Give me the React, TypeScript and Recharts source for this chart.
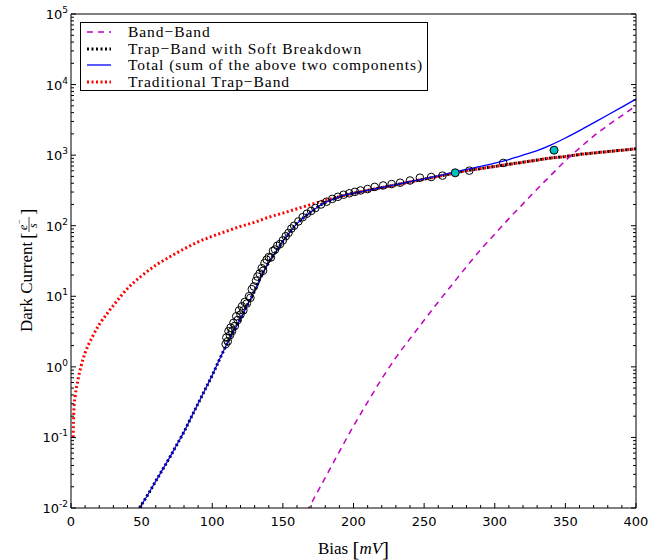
import { ComposedChart, Line, Scatter, XAxis, YAxis, Legend, Label } from 'recharts'

// bias [mV] and dark current [e-/s]
const totalBias = [45, 50, 55, 60, 65, 70, 75, 80, 85, 90, 95, 100, 105, 110, 115, 120, 125, 130, 135, 140, 145, 150, 155, 160, 165, 170, 175, 180, 185, 190, 195, 200, 210, 220, 230, 240, 250, 260, 270, 280, 290, 300, 310, 320, 330, 340, 350, 360, 370, 380, 390, 400]
const totalCurrent = [0.0079, 0.0112, 0.0162, 0.024, 0.0355, 0.0525, 0.0794, 0.12, 0.191, 0.302, 0.479, 0.759, 1.26, 2.04, 3.16, 4.79, 7.59, 12.0, 20.0, 30.2, 42.7, 60.3, 81.3, 107, 132, 158, 186, 214, 234, 257, 275, 288, 316, 348, 381, 420, 462, 509, 565, 629, 692, 768, 867, 998, 1160, 1400, 1750, 2230, 2870, 3700, 4800, 6240]

const softBias = [45, 50, 55, 60, 65, 70, 75, 80, 85, 90, 95, 100, 105, 110, 115, 120, 125, 130, 135, 140, 145, 150, 155, 160, 165, 170, 175, 180, 185, 190, 195, 200, 210, 220, 230, 240, 250, 260, 270, 280, 290, 300, 310, 320, 330, 340, 350, 360, 370, 380, 390, 400]
const softCurrent = [0.0079, 0.0112, 0.0162, 0.024, 0.0355, 0.0525, 0.0794, 0.12, 0.191, 0.302, 0.479, 0.759, 1.26, 2.04, 3.16, 4.79, 7.59, 12.0, 20.0, 30.2, 42.7, 60.3, 81.3, 107, 132, 158, 186, 214, 234, 257, 275, 288, 316, 347, 380, 417, 457, 501, 550, 603, 646, 692, 741, 794, 851, 912, 955, 1023, 1072, 1122, 1175, 1230]

const tradBias = [1.5, 2, 3, 5, 7, 10, 15, 20, 25, 30, 40, 50, 60, 70, 80, 90, 100, 110, 120, 130, 140, 150, 160, 170, 180, 190, 200, 210, 220, 230, 240, 250, 260, 270, 280, 290, 300, 310, 320, 330, 340, 350, 360, 370, 380, 390, 400]
const tradCurrent = [0.1, 0.24, 0.39, 0.661, 1.0, 1.58, 2.63, 3.98, 5.5, 7.41, 12.9, 19.5, 27.5, 36.3, 46.8, 58.9, 70.8, 83.2, 97.7, 112, 132, 151, 174, 200, 229, 257, 288, 316, 347, 380, 417, 457, 501, 550, 603, 646, 692, 741, 794, 851, 912, 955, 1023, 1072, 1122, 1175, 1230]

const bandBias = [167, 170, 180, 190, 200, 210, 220, 230, 240, 250, 260, 270, 280, 290, 300, 310, 320, 330, 340, 350, 360, 370, 380, 390, 400]
const bandCurrent = [0.0089, 0.0115, 0.0269, 0.0631, 0.145, 0.316, 0.676, 1.35, 2.51, 4.57, 8.32, 14.8, 26.3, 45.7, 75.9, 126, 204, 331, 525, 832, 1259, 1862, 2630, 3631, 5012]

const measuredBias = [109.5, 110, 111, 111.5, 112.5, 113, 114, 115, 116, 117, 118, 119, 120, 121, 122, 123, 124.5, 126, 127, 128, 129.5, 131, 132, 133.5, 135, 136, 137, 138.5, 140, 141.5, 143, 144.5, 146, 148, 150, 152, 154, 156, 158, 161, 164, 167, 170, 173, 177, 181, 185, 189, 193, 197, 201, 205, 210, 215, 221, 227, 233, 240, 247, 255, 263, 282, 306]
const measuredCurrent = [2.1, 2.6, 2.3, 3.2, 2.8, 3.6, 3.2, 4.2, 3.8, 5.2, 4.6, 6.3, 5.5, 7.2, 6.3, 8.3, 7.9, 10, 9.5, 12.6, 13.8, 16.6, 19, 21, 25, 23, 29.5, 33, 36, 35.5, 44, 46, 52, 55, 62, 71, 79, 91, 100, 115, 132, 148, 162, 178, 200, 219, 240, 257, 275, 288, 302, 316, 331, 355, 372, 389, 407, 437, 479, 490, 513, 603, 776]

const highlightBias = [272, 342]
const highlightCurrent = [562, 1175]

const xTicks = Array.from({ length: 41 }, (_, i) => i * 10)
const yDecades = [0.01, 0.1, 1, 10, 100, 1000, 10000, 100000]
const yTicks = yDecades.flatMap((d, i) => (i === yDecades.length - 1 ? [d] : [1, 2, 3, 4, 5, 6, 7, 8, 9].map((m) => d * m)))

const legendItems = [
  { label: 'Band\u2212Band', color: '#bf00bf', dash: '6 5', width: 1.5 },
  { label: 'Trap\u2212Band with Soft Breakdown', color: '#000000', dash: '2 2.5', width: 3 },
  { label: 'Total (sum of the above two components)', color: '#0000ff', dash: undefined, width: 1.3 },
  { label: 'Traditional Trap\u2212Band', color: '#ff0000', dash: '2 2.5', width: 3 },
]

const zip = (xs: number[], ys: number[]) => xs.map((x, i) => ({ x, y: ys[i] }))

const tickFont = '"DejaVu Sans", sans-serif'
const labelFont = '"Liberation Serif", serif'

const isDecade = (v: number) => Math.abs(Math.log10(v) - Math.round(Math.log10(v))) < 1e-6

const LeftTick = ({ x, y, payload }: any) => {
  const major = isDecade(payload.value)
  return (
    <g>
      <line x1={x} x2={x + (major ? 5 : 3)} y1={y} y2={y} stroke="#000" strokeWidth={1} />
      {major && (
        <text x={x - 3} y={y + 5} textAnchor="end" fontFamily={tickFont} fontSize={13} fill="#000">
          10<tspan dy={-6} fontSize={9}>{Math.round(Math.log10(payload.value))}</tspan>
        </text>
      )}
    </g>
  )
}

const RightTick = ({ x, y, payload }: any) => {
  const major = isDecade(payload.value)
  return <line x1={x - (major ? 5 : 3)} x2={x} y1={y} y2={y} stroke="#000" strokeWidth={1} />
}

const BottomTick = ({ x, y, payload }: any) => {
  const major = payload.value % 50 === 0
  return (
    <g>
      <line x1={x} x2={x} y1={y} y2={y - (major ? 5 : 3)} stroke="#000" strokeWidth={1} />
      {major && (
        <text x={x} y={y + 18} textAnchor="middle" fontFamily={tickFont} fontSize={13} fill="#000">
          {payload.value}
        </text>
      )}
    </g>
  )
}

const TopTick = ({ x, y, payload }: any) => {
  const major = payload.value % 50 === 0
  return <line x1={x} x2={x} y1={y} y2={y + (major ? 5 : 3)} stroke="#000" strokeWidth={1} />
}

const XTitle = ({ viewBox }: any) => {
  const cx = viewBox.x + viewBox.width / 2
  return (
    <text x={cx} y={viewBox.y + 46} textAnchor="middle" fontFamily={labelFont} fontSize={17} fill="#000">
      Bias <tspan fontSize={21} dy={2}>[</tspan>
      <tspan fontStyle="italic" dy={-2}>mV</tspan>
      <tspan fontSize={21} dy={2}>]</tspan>
    </text>
  )
}

const YTitle = ({ viewBox }: any) => {
  const cy = viewBox.y + viewBox.height / 2 + 5
  return (
    <g transform={`translate(32, ${cy}) rotate(-90)`} fontFamily={labelFont} fill="#000">
      <text x={-66} y={0} fontSize={17}>Dark Current</text>
      <text x={27} y={2} fontSize={19}>[</text>
      <text x={36} y={-5} fontSize={12} fontStyle="italic">e</text>
      <text x={42} y={-10} fontSize={8}>{'\u2212'}</text>
      <line x1={34} x2={49} y1={-3} y2={-3} stroke="#000" strokeWidth={0.7} />
      <text x={38} y={5} fontSize={12} fontStyle="italic">s</text>
      <text x={51} y={2} fontSize={19}>]</text>
    </g>
  )
}

const LegendBox = () => (
  <div
    style={{
      display: 'inline-block',
      border: '1px solid #000',
      background: '#fff',
      padding: '1px 4px 0px 6px',
      fontFamily: labelFont,
      fontSize: 15.5,
      letterSpacing: 0.95,
      color: '#000',
    }}
  >
    {legendItems.map((it) => (
      <div key={it.label} style={{ display: 'flex', alignItems: 'center', height: 16.5 }}>
        <svg width={24} height={10} style={{ marginRight: 17 }}>
          <line x1={0} x2={24} y1={5} y2={5} stroke={it.color} strokeWidth={it.width} strokeDasharray={it.dash} />
        </svg>
        <span style={{ whiteSpace: 'nowrap', lineHeight: '16.5px' }}>{it.label}</span>
      </div>
    ))}
  </div>
)

export default function App() {
  return (
    <div style={{ position: 'absolute', left: 0, top: 0, background: '#fff' }}>
      <ComposedChart width={659} height={560} margin={{ top: 0, right: 0, bottom: 0, left: 0 }}>
        <XAxis
          xAxisId="x"
          type="number"
          dataKey="x"
          domain={[0, 400]}
          ticks={xTicks}
          interval={0}
          height={52}
          tickSize={0}
          tickMargin={0}
          tickLine={false}
          axisLine={{ stroke: '#000' }}
          tick={<BottomTick />}
        >
          <Label content={<XTitle />} />
        </XAxis>
        <XAxis
          xAxisId="xt"
          orientation="top"
          type="number"
          domain={[0, 400]}
          allowDataOverflow
          ticks={xTicks}
          interval={0}
          height={14}
          tickSize={0}
          tickMargin={0}
          tickLine={false}
          axisLine={{ stroke: '#000' }}
          tick={<TopTick />}
        />
        <YAxis
          yAxisId="y"
          type="number"
          scale="log"
          domain={[0.01, 100000]}
          allowDataOverflow
          ticks={yTicks}
          interval={0}
          width={71}
          tickSize={0}
          tickMargin={0}
          tickLine={false}
          axisLine={{ stroke: '#000' }}
          tick={<LeftTick />}
        >
          <Label content={<YTitle />} />
        </YAxis>
        <YAxis
          yAxisId="yr"
          orientation="right"
          type="number"
          scale="log"
          domain={[0.01, 100000]}
          allowDataOverflow
          ticks={yTicks}
          interval={0}
          width={23}
          tickSize={0}
          tickMargin={0}
          tickLine={false}
          axisLine={{ stroke: '#000' }}
          tick={<RightTick />}
        />
        <Legend
          layout="vertical"
          verticalAlign="middle"
          align="center"
          wrapperStyle={{ left: 80, top: 22, width: 'auto' }}
          content={<LegendBox />}
        />
        <Line
          xAxisId="x"
          yAxisId="y"
          data={zip(softBias, softCurrent)}
          dataKey="y"
          type="monotone"
          stroke="#000"
          strokeWidth={3}
          strokeDasharray="2 2.5"
          dot={false}
          activeDot={false}
          isAnimationActive={false}
        />
        <Line
          xAxisId="x"
          yAxisId="y"
          data={zip(tradBias, tradCurrent)}
          dataKey="y"
          type="monotone"
          stroke="#ff0000"
          strokeWidth={3}
          strokeDasharray="2 2.5"
          dot={false}
          activeDot={false}
          isAnimationActive={false}
        />
        <Line
          xAxisId="x"
          yAxisId="y"
          data={zip(totalBias, totalCurrent)}
          dataKey="y"
          type="monotone"
          stroke="#0000ff"
          strokeWidth={1.3}
          dot={false}
          activeDot={false}
          isAnimationActive={false}
        />
        <Line
          xAxisId="x"
          yAxisId="y"
          data={zip(bandBias, bandCurrent)}
          dataKey="y"
          type="monotone"
          stroke="#bf00bf"
          strokeWidth={1.5}
          strokeDasharray="6 5"
          dot={false}
          activeDot={false}
          isAnimationActive={false}
        />
        <Scatter
          xAxisId="x"
          yAxisId="y"
          data={zip(measuredBias, measuredCurrent)}
          dataKey="y"
          isAnimationActive={false}
          shape={(p: any) => <circle cx={p.cx} cy={p.cy} r={3.8} fill="none" stroke="#000" strokeWidth={1} />}
        />
        <Scatter
          xAxisId="x"
          yAxisId="y"
          data={zip(highlightBias, highlightCurrent)}
          dataKey="y"
          isAnimationActive={false}
          shape={(p: any) => <circle cx={p.cx} cy={p.cy} r={4} fill="#00bfbf" stroke="#000" strokeWidth={1} />}
        />
      </ComposedChart>
    </div>
  )
}
